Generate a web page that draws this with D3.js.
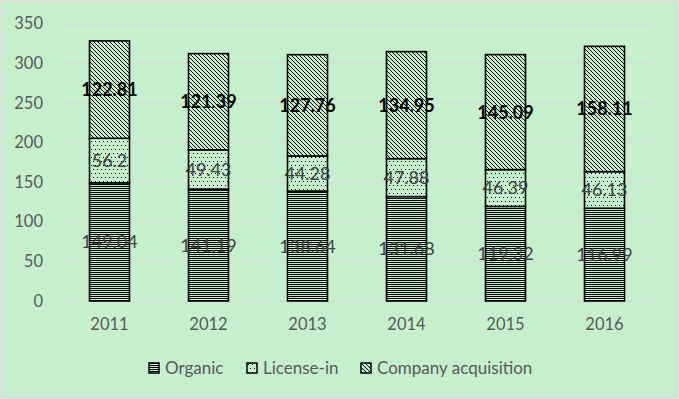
<!DOCTYPE html>
<html>
<head>
<meta charset="utf-8">
<script src="https://cdn.jsdelivr.net/npm/d3@7"></script>
<style>
  html, body { margin: 0; padding: 0; background: #fff; }
  svg { display: block; font-family: Lato, "Open Sans", sans-serif; }
</style>
</head>
<body>
<div id="chart"></div>
<script>
// chart data
const years = ["2011", "2012", "2013", "2014", "2015", "2016"];
const organic = [149.04, 141.19, 138.64, 131.68, 119.32, 116.99];
const licenseIn = [56.2, 49.43, 44.28, 47.88, 46.39, 46.13];
const acquisition = [122.81, 121.39, 127.76, 134.95, 145.09, 158.11];
const seriesNames = ["Organic", "License-in", "Company acquisition"];
const yTicks = [0, 50, 100, 150, 200, 250, 300, 350];

const width = 679, height = 399;
const bg = "#c6efce";

const svg = d3.select("#chart").append("svg")
    .attr("width", width)
    .attr("height", height);

// fill patterns, like excel's pattern fills
const defs = svg.append("defs");

const pHorz = defs.append("pattern")
    .attr("id", "p-horz")
    .attr("patternUnits", "userSpaceOnUse")
    .attr("width", 4).attr("height", 2);
pHorz.append("rect").attr("width", 4).attr("height", 2).attr("fill", bg);
pHorz.append("rect").attr("width", 4).attr("height", 1).attr("fill", "#000");

const pDots = defs.append("pattern")
    .attr("id", "p-dots")
    .attr("patternUnits", "userSpaceOnUse")
    .attr("width", 8).attr("height", 8);
pDots.append("rect").attr("width", 8).attr("height", 8).attr("fill", bg);
[[1, 1], [5, 1], [3, 5], [7, 5]].forEach(p => {
    pDots.append("rect").attr("x", p[0]).attr("y", p[1])
        .attr("width", 1).attr("height", 1).attr("fill", "#000");
});

const pDiag = defs.append("pattern")
    .attr("id", "p-diag")
    .attr("patternUnits", "userSpaceOnUse")
    .attr("width", 4).attr("height", 4);
pDiag.append("rect").attr("width", 4).attr("height", 4).attr("fill", bg);
pDiag.append("path")
    .attr("d", "M-1,-1 L5,5 M-1,3 L1,5 M3,-1 L5,1")
    .attr("stroke", "#000")
    .attr("stroke-width", 1);

const fills = ["url(#p-horz)", "url(#p-dots)", "url(#p-diag)"];

// background + outer border
svg.append("rect")
    .attr("x", 1).attr("y", 1)
    .attr("width", width - 2).attr("height", height - 2)
    .attr("fill", bg)
    .attr("stroke", "#d9d9d9")
    .attr("stroke-width", 1.5);

const x = d3.scaleBand()
    .domain(years)
    .range([60, 654])
    .paddingInner(0.596)
    .paddingOuter(0.298);

const y = d3.scaleLinear()
    .domain([0, 350])
    .range([301, 23.5]);

// gridlines
svg.append("g")
    .selectAll("line")
    .data(yTicks)
    .join("line")
    .attr("x1", 60).attr("x2", 654)
    .attr("y1", d => Math.round(y(d)) + 0.5)
    .attr("y2", d => Math.round(y(d)) + 0.5)
    .attr("stroke", "#d9d9d9")
    .attr("stroke-width", 1);

// y axis labels
const yAxis = svg.append("g")
    .attr("transform", "translate(60,0)")
    .call(d3.axisLeft(y).tickValues(yTicks).tickSize(0).tickPadding(17));
yAxis.select(".domain").remove();
yAxis.selectAll("text")
    .attr("fill", "#595959")
    .style("font-size", "16.5px")
    .style("font-family", "Lato, sans-serif");

// x axis labels
const xAxis = svg.append("g")
    .attr("transform", "translate(0,301)")
    .call(d3.axisBottom(x).tickSize(0).tickPadding(17));
xAxis.select(".domain").remove();
xAxis.selectAll("text")
    .attr("fill", "#595959")
    .style("font-size", "16.5px")
    .style("font-family", "Lato, sans-serif");

// stack the three series
const rows = years.map((yr, i) => ({
    year: yr, Organic: organic[i], "License-in": licenseIn[i], "Company acquisition": acquisition[i]
}));
const stacked = d3.stack().keys(seriesNames)(rows);

const layers = svg.append("g")
    .selectAll("g")
    .data(stacked)
    .join("g")
    .attr("fill", (d, i) => fills[i]);

layers.selectAll("rect")
    .data(d => d)
    .join("rect")
    .attr("x", d => x(d.data.year))
    .attr("width", x.bandwidth())
    .attr("y", d => y(d[1]))
    .attr("height", d => y(d[0]) - y(d[1]))
    .attr("stroke", "#000")
    .attr("stroke-width", 1.6);

// data labels
const labelStyle = [
    { color: "#404040", weight: "normal" },
    { color: "#404040", weight: "normal" },
    { color: "#000", weight: "bold" }
];

stacked.forEach((layer, li) => {
    svg.append("g")
        .selectAll("text")
        .data(layer)
        .join("text")
        .attr("x", d => x(d.data.year) + x.bandwidth() / 2)
        .attr("y", d => (y(d[0]) + y(d[1])) / 2)
        .attr("dy", "0.36em")
        .attr("text-anchor", "middle")
        .attr("fill", labelStyle[li].color)
        .attr("font-weight", labelStyle[li].weight)
        .style("font-size", "18px")
        .text(d => d.data[layer.key]);
});

// legend
const legendX = [149, 247, 361];
const legend = svg.append("g")
    .selectAll("g")
    .data(seriesNames)
    .join("g")
    .attr("transform", (d, i) => `translate(${legendX[i]},363)`);

legend.append("rect")
    .attr("width", 10).attr("height", 10)
    .attr("fill", (d, i) => fills[i])
    .attr("stroke", "#000")
    .attr("stroke-width", 1.5);

legend.append("text")
    .attr("x", 16)
    .attr("y", 5)
    .attr("dy", "0.36em")
    .attr("fill", "#595959")
    .style("font-size", "17px")
    .text(d => d);
</script>
</body>
</html>
